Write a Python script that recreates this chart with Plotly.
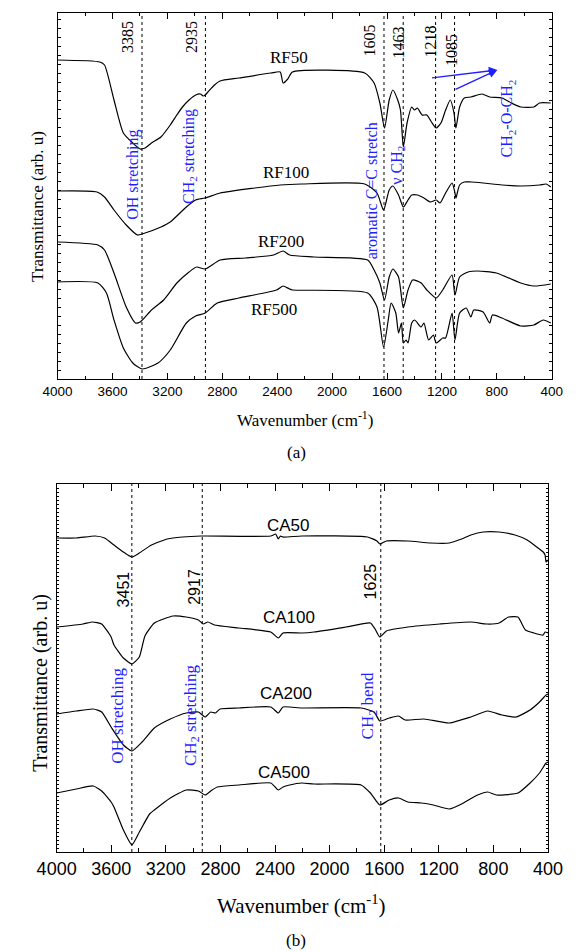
import plotly.graph_objects as go

# ---------------- Panel (a) data ----------------
rf50_wn = [4000, 3692, 3658, 3589, 3521, 3452, 3398, 3363, 3316, 3247, 3179, 3131, 3090, 3042, 2994, 2960, 2940, 2925, 2905, 2857, 2816, 2679, 2446, 2378, 2357, 2323, 2289, 1762, 1694, 1652, 1618, 1584, 1557, 1522, 1502, 1481, 1454, 1420, 1399, 1379, 1344, 1310, 1276, 1242, 1207, 1173, 1139, 1112, 1098, 1071, 1037, 989, 941, 907, 852, 763, 694, 626, 530, 489, 407]
rf50_t = [319, 317, 314, 279, 246, 236, 230, 231, 236, 242, 254, 264, 272, 279, 284, 285, 283, 284, 287, 294, 298, 301, 306, 307, 296, 300, 307, 306, 296, 276, 251, 279, 289, 279, 269, 232, 256, 272, 269, 271, 264, 264, 257, 251, 256, 269, 279, 266, 251, 272, 281, 282, 284, 285, 282, 281, 276, 272, 272, 276, 276]

rf100_wn = [4000, 3713, 3658, 3589, 3500, 3418, 3384, 3247, 3179, 3062, 2994, 2925, 2816, 2563, 2378, 2221, 1762, 1673, 1625, 1584, 1557, 1516, 1481, 1447, 1420, 1379, 1331, 1283, 1242, 1214, 1173, 1126, 1105, 1098, 1071, 1037, 989, 900, 763, 626, 489, 441, 407]
rf100_t = [188, 187, 182, 169, 154, 144, 145, 152, 157, 172, 179, 181, 186, 191, 194, 195, 195, 186, 169, 189, 193, 184, 172, 179, 184, 184, 181, 177, 179, 176, 186, 196, 186, 181, 194, 197, 197, 196, 194, 193, 194, 195, 192]

rf200_wn = [4000, 3706, 3658, 3589, 3500, 3432, 3398, 3316, 3227, 3131, 3042, 2987, 2925, 2816, 2631, 2426, 2357, 2310, 2132, 1741, 1694, 1652, 1618, 1584, 1557, 1516, 1481, 1447, 1413, 1351, 1310, 1242, 1194, 1126, 1105, 1071, 1009, 941, 804, 626, 530, 407]
rf200_t = [137, 134, 129, 106, 72, 56, 57, 69, 79, 96, 107, 112, 110, 119, 121, 124, 128, 124, 122, 119, 109, 96, 79, 102, 110, 102, 71, 89, 99, 96, 89, 81, 89, 104, 84, 102, 107, 108, 106, 96, 93, 95]

rf500_wn = [4000, 3706, 3644, 3589, 3521, 3452, 3384, 3268, 3179, 3062, 2994, 2925, 2837, 2679, 2405, 2357, 2310, 2289, 1741, 1673, 1625, 1591, 1570, 1536, 1516, 1495, 1481, 1461, 1447, 1420, 1399, 1351, 1331, 1297, 1262, 1242, 1194, 1173, 1126, 1105, 1071, 1023, 989, 968, 900, 852, 832, 763, 626, 530, 462, 407]
rf500_t = [97, 96, 86, 59, 31, 16, 10, 16, 29, 56, 63, 66, 76, 81, 89, 93, 90, 89, 86, 72, 32, 59, 76, 66, 46, 56, 36, 39, 36, 56, 59, 52, 56, 39, 44, 36, 41, 41, 66, 39, 66, 71, 62, 69, 67, 56, 64, 61, 53, 54, 59, 56]

peak_pos_a = [3385, 2923, 1622, 1482, 1246, 1108]
peak_lbl_a = ["3385", "2935", "1605", "1463", "1218", "1085"]
peak_lbl_a_xy = [(3487, 342), (3021, 342), (1721, 339), (1516, 336), (1283, 337), (1126, 329)]
names_a = ["RF50", "RF100", "RF200", "RF500"]
names_a_xy = [(2316, 321), (2337, 206), (2371, 137), (2426, 69)]

# ---------------- Panel (b) data ----------------
ca50_wn = [4000, 3855, 3718, 3649, 3580, 3511, 3449, 3394, 3305, 3188, 3078, 2940, 2431, 2395, 2376, 2360, 2341, 2204, 1722, 1653, 1632, 1584, 1426, 1261, 1123, 1033, 965, 875, 758, 641, 552, 483, 435, 421, 414, 400]
ca50_t = [314, 314, 316, 314, 307, 300, 295, 299, 307, 313, 315, 316, 316, 318, 313, 316, 315, 316, 315, 311, 308, 311, 311, 309, 309, 313, 317, 320, 320, 317, 312, 305, 300, 297, 290, 292]

ca100_wn = [4000, 3807, 3738, 3670, 3601, 3580, 3511, 3449, 3394, 3353, 3284, 3147, 3050, 2961, 2926, 2892, 2844, 2665, 2431, 2376, 2341, 2204, 2114, 1880, 1701, 1667, 1632, 1584, 1426, 1192, 965, 848, 758, 689, 620, 565, 503, 435, 421, 400]
ca100_t = [225, 228, 230, 228, 215, 207, 194, 188, 195, 216, 229, 236, 235, 232, 228, 230, 227, 224, 220, 214, 219, 219, 220, 225, 229, 223, 215, 221, 225, 228, 230, 228, 229, 235, 235, 222, 219, 217, 220, 219]

ca200_wn = [4000, 3855, 3732, 3670, 3601, 3511, 3449, 3374, 3284, 3167, 3050, 2961, 2912, 2871, 2837, 2802, 2665, 2431, 2376, 2341, 2204, 1770, 1674, 1632, 1563, 1495, 1446, 1309, 1123, 965, 841, 737, 634, 531, 462, 414, 400]
ca200_t = [138, 141, 143, 140, 125, 107, 101, 110, 124, 133, 139, 140, 135, 140, 139, 143, 144, 145, 139, 145, 144, 144, 140, 131, 134, 136, 132, 133, 129, 135, 141, 137, 135, 142, 150, 157, 158]

ca500_wn = [4000, 3855, 3732, 3670, 3601, 3580, 3511, 3449, 3394, 3319, 3284, 3167, 3050, 2961, 2912, 2871, 2823, 2665, 2431, 2376, 2341, 2293, 2204, 2114, 1770, 1701, 1632, 1563, 1495, 1426, 1329, 1240, 1123, 1033, 916, 841, 779, 620, 531, 462, 414, 400]
ca500_t = [59, 63, 66, 61, 50, 45, 22, 7, 20, 38, 42, 54, 62, 61, 57, 61, 65, 67, 69, 62, 65, 67, 69, 68, 67, 59, 47, 52, 54, 50, 49, 47, 43, 48, 57, 60, 57, 59, 69, 79, 89, 90]

peak_pos_b = [3449, 2933, 1625]
peak_lbl_b = ["3451", "2917", "1625"]
peak_lbl_b_xy = [(3511, 263), (2995, 265), (1701, 271)]
names_b = ["CA50", "CA100", "CA200", "CA500"]
names_b_xy = [(2300, 327), (2300, 235), (2321, 159), (2334, 80)]

SERIF = "Liberation Serif"
SANS = "Liberation Sans"
BLUE = "#1f1fff"

fig = go.Figure()
for wn, t in [(rf50_wn, rf50_t), (rf100_wn, rf100_t), (rf200_wn, rf200_t), (rf500_wn, rf500_t)]:
    fig.add_trace(go.Scatter(x=wn, y=t, mode="lines", line=dict(color="black", width=1.2, shape="spline", smoothing=0.6),
                             xaxis="x", yaxis="y", showlegend=False, hoverinfo="skip"))
for wn, t in [(ca50_wn, ca50_t), (ca100_wn, ca100_t), (ca200_wn, ca200_t), (ca500_wn, ca500_t)]:
    fig.add_trace(go.Scatter(x=wn, y=t, mode="lines", line=dict(color="black", width=1.2, shape="spline", smoothing=0.5),
                             xaxis="x2", yaxis="y2", showlegend=False, hoverinfo="skip"))

shapes = []
for p in peak_pos_a:
    shapes.append(dict(type="line", xref="x", yref="y domain", x0=p, x1=p, y0=0, y1=1,
                       line=dict(color="black", width=1, dash="dot")))
for p in peak_pos_b:
    shapes.append(dict(type="line", xref="x2", yref="y2 domain", x0=p, x1=p, y0=0, y1=1,
                       line=dict(color="black", width=1, dash="dot")))

C = dict(xanchor="center", yanchor="middle", showarrow=False)
ann = []
for lbl, (x, y) in zip(peak_lbl_a, peak_lbl_a_xy):
    ann.append(dict(xref="x", yref="y", x=x, y=y, text=lbl, textangle=-90,
                    font=dict(family=SERIF, size=16, color="black"), **C))
for lbl, (x, y) in zip(names_a, names_a_xy):
    ann.append(dict(xref="x", yref="y", x=x, y=y, text=lbl,
                    font=dict(family=SERIF, size=17, color="black"), **C))
blue_a = [("OH stretching", 3452, 204), ("CH<sub>2</sub> stretching", 3035, 222),
          ("aromatic C=C stretch", 1707, 188), ("ν CH<sub>2</sub>", 1522, 214),
          ("CH<sub>2</sub>-O-CH<sub>2</sub>", 715, 261)]
for txt, x, y in blue_a:
    ann.append(dict(xref="x", yref="y", x=x, y=y, text=txt, textangle=-90,
                    font=dict(family=SERIF, size=16, color=BLUE), **C))
# arrows
for tx, ty in [(1283, 301), (1112, 289)]:
    ann.append(dict(xref="x", yref="y", axref="x", ayref="y", x=797, y=309, ax=tx, ay=ty, text="",
                    showarrow=True, arrowhead=2, arrowsize=1.3, arrowwidth=1.3, arrowcolor=BLUE))

for lbl, (x, y) in zip(peak_lbl_b, peak_lbl_b_xy):
    ann.append(dict(xref="x2", yref="y2", x=x, y=y, text=lbl, textangle=-90,
                    font=dict(family=SANS, size=16, color="black"), **C))
for lbl, (x, y) in zip(names_b, names_b_xy):
    ann.append(dict(xref="x2", yref="y2", x=x, y=y, text=lbl,
                    font=dict(family=SANS, size=17, color="black"), **C))
blue_b = [("OH stretching", 3559, 136), ("CH<sub>2</sub> stretching", 3009, 137), ("CH<sub>2</sub> bend", 1708, 146)]
for txt, x, y in blue_b:
    ann.append(dict(xref="x2", yref="y2", x=x, y=y, text=txt, textangle=-90,
                    font=dict(family=SERIF, size=17, color=BLUE), **C))

W, H = 578, 952
def px(x, y):
    return dict(xref="paper", yref="paper", x=x / W, y=(H - y) / H)

# titles & captions
ann += [
    dict(**px(18, 206), text="Transmittance (arb. u)", textangle=-90,
         font=dict(family=SERIF, size=17, color="black"), **C),
    dict(**px(21, 683), text="Transmittance (arb. u)", textangle=-90,
         font=dict(family=SERIF, size=20, color="black"), **C),
    dict(**px(303, 419), text="Wavenumber (cm<sup>-1</sup>)",
         font=dict(family=SERIF, size=17, color="black"), **C),
    dict(**px(300, 904), text="Wavenumber (cm<sup>-1</sup>)",
         font=dict(family=SERIF, size=21, color="black"), **C),
    dict(**px(294, 452), text="(a)",
         font=dict(family=SERIF, size=17, color="black"), **C),
    dict(**px(294, 940), text="(b)",
         font=dict(family=SERIF, size=17, color="black"), **C),
]

def dom(a, b, size):
    return [a / size, b / size]

xa_common = dict(range=[4000, 400], dtick=400, tick0=0, ticks="inside", showline=True, linecolor="black",
                 linewidth=1, mirror="ticks", showgrid=False, zeroline=False, tickcolor="black")
fig.update_layout(
    width=W, height=H, margin=dict(l=0, r=0, t=0, b=0),
    paper_bgcolor="white", plot_bgcolor="white",
    xaxis=dict(domain=dom(40, 566, W), anchor="y", ticklen=6, tickfont=dict(family=SANS, size=13.5, color="black"),
               minor=dict(dtick=200, ticks="inside", ticklen=3, tickcolor="black"), **xa_common),
    yaxis=dict(domain=[(H - 379) / H, (H - 13) / H], anchor="x", range=[0, 366], dtick=9, ticks="inside", ticklen=3,
               showticklabels=False, showline=True, linecolor="black", linewidth=1, mirror="ticks",
               showgrid=False, zeroline=False, tickcolor="black"),
    xaxis2=dict(domain=dom(39, 562, W), anchor="y2", ticklen=7, tickfont=dict(family=SANS, size=18, color="black"),
                minor=dict(dtick=200, ticks="inside", ticklen=4, tickcolor="black"), **xa_common),
    yaxis2=dict(domain=[(H - 852) / H, (H - 484) / H], anchor="x2", range=[0, 368], dtick=4, ticks="inside", ticklen=2,
                showticklabels=False, showline=True, linecolor="black", linewidth=1, mirror="ticks",
                showgrid=False, zeroline=False, tickcolor="black"),
    shapes=shapes, annotations=ann,
)
fig.write_html("out.html")
